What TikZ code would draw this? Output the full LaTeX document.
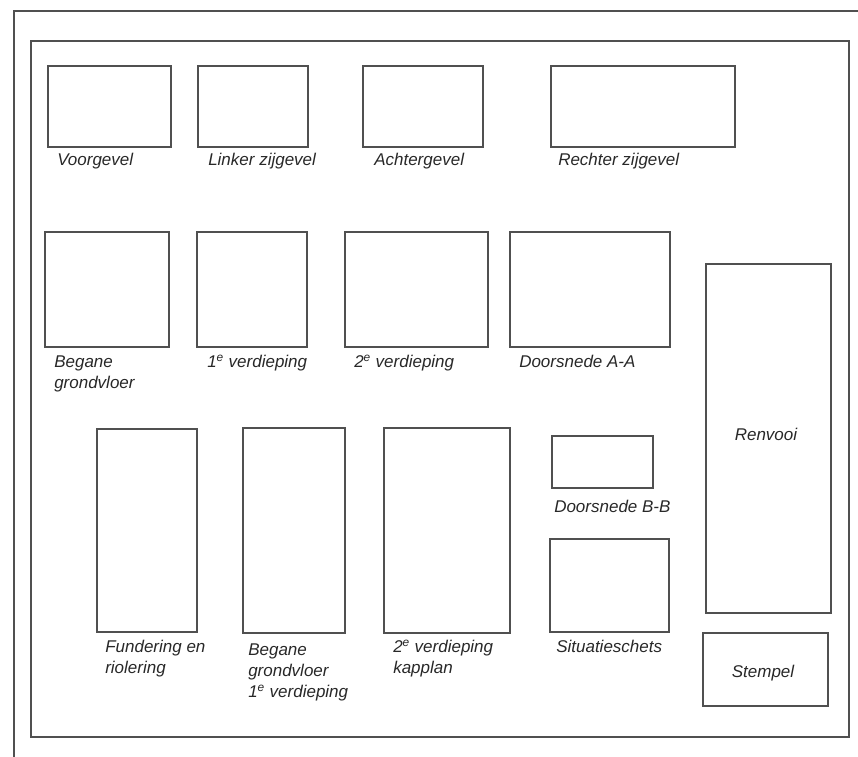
\documentclass[tikz,border=0pt]{standalone}
\usepackage{fontspec}
\setmainfont{Liberation Sans}
\usepackage{tikz}

\begin{document}
\begin{tikzpicture}[x=0.75pt,y=0.75pt,yscale=-1,xscale=1,
  box/.style={draw={rgb, 255:red, 80; green, 80; blue, 80}, line width=1.1pt},
  lbl/.style={anchor=base west, inner sep=0.75pt, align=left, font=\fontsize{12.75}{15.75}\selectfont\itshape, text={rgb, 255:red, 40; green, 40; blue, 40}}]
\useasboundingbox (0,0) rectangle (858,757);

%Shape: Sheet edge
\draw [box] (14,757) -- (14,11) -- (858,11) ;
%Shape: Frame
\draw [box] (31,41) -- (849,41) -- (849,737) -- (31,737) -- cycle ;

%Shape: Rectangle (row 1)
\draw [box] (48,66) -- (171,66) -- (171,147) -- (48,147) -- cycle ;
\draw [box] (198,66) -- (308,66) -- (308,147) -- (198,147) -- cycle ;
\draw [box] (363,66) -- (483,66) -- (483,147) -- (363,147) -- cycle ;
\draw [box] (551,66) -- (735,66) -- (735,147) -- (551,147) -- cycle ;

% Text Node
\node [lbl] (voorgevel) at (56,165) {Voorgevel};
% Text Node
\node [lbl] (linker) at (207,165) {Linker zijgevel};
% Text Node
\node [lbl] (achter) at (373,165) {Achtergevel};
% Text Node
\node [lbl] (rechter) at (557,165) {Rechter zijgevel};

%Shape: Rectangle (row 2)
\draw [box] (45,232) -- (169,232) -- (169,347) -- (45,347) -- cycle ;
\draw [box] (197,232) -- (307,232) -- (307,347) -- (197,347) -- cycle ;
\draw [box] (345,232) -- (488,232) -- (488,347) -- (345,347) -- cycle ;
\draw [box] (510,232) -- (670,232) -- (670,347) -- (510,347) -- cycle ;

% Text Node (base = last line)
\node [lbl] (bgvloer) at (53,388) {Begane\\grondvloer};
% Text Node
\node [lbl] (eerste) at (206,367) {1\textsuperscript{e} verdieping};
% Text Node
\node [lbl] (tweede) at (353,367) {2\textsuperscript{e} verdieping};
% Text Node
\node [lbl] (doorAA) at (518,367) {Doorsnede A-A};

%Shape: Rectangle (right column)
\draw [box] (706,264) -- (831,264) -- (831,613) -- (706,613) -- cycle ;
\draw [box] (703,633) -- (828,633) -- (828,706) -- (703,706) -- cycle ;

% Text Node
\node [lbl, anchor=base] (renvooi) at (766,440) {Renvooi};
% Text Node
\node [lbl, anchor=base] (stempel) at (763,677) {Stempel};

%Shape: Rectangle (row 3)
\draw [box] (97,429) -- (197,429) -- (197,632) -- (97,632) -- cycle ;
\draw [box] (243,428) -- (345,428) -- (345,633) -- (243,633) -- cycle ;
\draw [box] (384,428) -- (510,428) -- (510,633) -- (384,633) -- cycle ;
\draw [box] (552,436) -- (653,436) -- (653,488) -- (552,488) -- cycle ;
\draw [box] (550,539) -- (669,539) -- (669,632) -- (550,632) -- cycle ;

% Text Node (base = last line)
\node [lbl] (fundering) at (104,673) {Fundering en\\riolering};
% Text Node
\node [lbl] (bgeerste) at (247,697) {Begane\\grondvloer\\1\textsuperscript{e} verdieping};
% Text Node
\node [lbl] (kapplan) at (392,673) {2\textsuperscript{e} verdieping\\kapplan};
% Text Node
\node [lbl] (doorBB) at (553,512) {Doorsnede B-B};
% Text Node
\node [lbl] (situatie) at (555,652) {Situatieschets};

\end{tikzpicture}
\end{document}
